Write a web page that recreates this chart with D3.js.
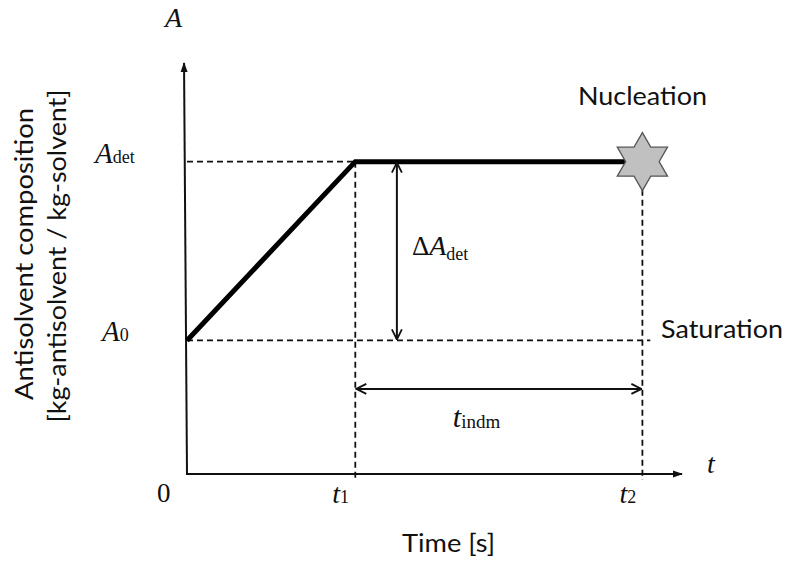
<!DOCTYPE html>
<html>
<head>
<meta charset="utf-8">
<script src="https://cdn.jsdelivr.net/npm/d3@7"></script>
<style>
  html, body { margin: 0; padding: 0; background: #fff; }
  svg { display: block; }
  .sans { font-family: Lato, "Open Sans", sans-serif; fill: #111; }
  .serif { font-family: "Liberation Serif", "DejaVu Serif", serif; fill: #111; }
</style>
</head>
<body>
<svg id="chart" width="788" height="570"></svg>
<script>
// Time landmarks (arbitrary units along the time axis)
const timeMarks = [
  { key: "t1", t: 34 },
  { key: "t2", t: 92 }
];
const tAxisEnd = 100;          // end of time axis (arrow tip)
const saturationLineEnd = 93.6;

// Antisolvent composition levels (arbitrary units)
const compositionLevels = [
  { key: "A0", a: 32.5 },
  { key: "Adet", a: 76 }
];
const aAxisEnd = 100;

// Profile: linear ramp from A0 to Adet, then hold until nucleation at t2
const profileT = [0, 34, 92];
const profileA = [32.5, 76, 76];

// Arrow annotations
const deltaArrowT = 42.4;   // position of the ΔA_det arrow
const tindmArrowA = 20.7;   // height of the t_indm arrow

const svg = d3.select("#chart");

const x = d3.scaleLinear().domain([0, tAxisEnd]).range([187, 682]);
const y = d3.scaleLinear().domain([0, aAxisEnd]).range([474, 63]);

const T1 = timeMarks[0].t, T2 = timeMarks[1].t;
const A0 = compositionLevels[0].a, ADET = compositionLevels[1].a;

// Markers
const defs = svg.append("defs");
defs.append("marker")
  .attr("id", "axisHead")
  .attr("viewBox", "0 0 10 10")
  .attr("refX", 9).attr("refY", 5)
  .attr("markerWidth", 5).attr("markerHeight", 5)
  .attr("markerUnits", "strokeWidth")
  .attr("orient", "auto")
  .append("path").attr("d", "M0,1.5 L10,5 L0,8.5 Z").attr("fill", "#111");

defs.append("marker")
  .attr("id", "dimHead")
  .attr("viewBox", "0 0 12 12")
  .attr("refX", 11).attr("refY", 6)
  .attr("markerWidth", 6).attr("markerHeight", 6)
  .attr("markerUnits", "strokeWidth")
  .attr("orient", "auto-start-reverse")
  .append("path").attr("d", "M1,1 L11,6 L1,11")
  .attr("fill", "none").attr("stroke", "#111").attr("stroke-width", 1.8);

const dash = "6,4";

// Dashed guide lines
const guides = svg.append("g").attr("stroke", "#111").attr("stroke-width", 1.8)
  .attr("stroke-dasharray", dash).attr("fill", "none");

guides.append("line")
  .attr("x1", x(0)).attr("y1", y(ADET)).attr("x2", x(T1)).attr("y2", y(ADET));
guides.append("line")
  .attr("x1", x(0)).attr("y1", y(A0)).attr("x2", x(saturationLineEnd)).attr("y2", y(A0));
guides.append("line")
  .attr("x1", x(T1)).attr("y1", y(ADET)).attr("x2", x(T1)).attr("y2", y(0) + 6);
guides.append("line")
  .attr("x1", x(T2)).attr("y1", y(ADET) + 28).attr("x2", x(T2)).attr("y2", y(0) + 6);

// Axes (drawn as arrows)
const axes = svg.append("g").attr("stroke", "#111").attr("stroke-width", 2).attr("fill", "none");
axes.append("line")
  .attr("x1", x(0)).attr("y1", y(0)).attr("x2", x(-0.6)).attr("y2", y(aAxisEnd))
  .attr("marker-end", "url(#axisHead)");
axes.append("line")
  .attr("x1", x(0) - 1).attr("y1", y(0)).attr("x2", x(tAxisEnd)).attr("y2", y(0))
  .attr("marker-end", "url(#axisHead)");

// Composition profile
const profile = profileT.map((t, i) => [t, profileA[i]]);
svg.append("path")
  .datum(profile)
  .attr("d", d3.line().x(d => x(d[0])).y(d => y(d[1])))
  .attr("fill", "none").attr("stroke", "#000")
  .attr("stroke-width", 5).attr("stroke-linejoin", "miter");

// Nucleation star (hexagram)
const R = 29, r = R / Math.sqrt(3);
const starPts = d3.range(12).map(i => {
  const ang = -Math.PI / 2 + i * Math.PI / 6;
  const rad = i % 2 === 0 ? R : r;
  return [x(T2) + rad * Math.cos(ang), y(ADET) + rad * Math.sin(ang)];
});
svg.append("path")
  .attr("d", d3.line()(starPts) + "Z")
  .attr("fill", "#c0c0c0").attr("stroke", "#555").attr("stroke-width", 1.3);

// Dimension arrows
const dims = svg.append("g").attr("stroke", "#111").attr("stroke-width", 2).attr("fill", "none");
dims.append("line")
  .attr("x1", x(deltaArrowT)).attr("y1", y(ADET) + 1)
  .attr("x2", x(deltaArrowT)).attr("y2", y(A0) - 1)
  .attr("marker-start", "url(#dimHead)").attr("marker-end", "url(#dimHead)");
dims.append("line")
  .attr("x1", x(T1) + 1).attr("y1", y(tindmArrowA))
  .attr("x2", x(T2) - 1).attr("y2", y(tindmArrowA))
  .attr("marker-start", "url(#dimHead)").attr("marker-end", "url(#dimHead)");

// Math-style labels
function mathLabel(xp, yp, parts) {
  const t = svg.append("text").attr("class", "serif").attr("x", xp).attr("y", yp);
  parts.forEach(p => {
    const s = t.append("tspan").text(p.text).attr("font-size", p.size);
    if (p.italic) s.attr("font-style", "italic");
    if (p.dy) s.attr("dy", p.dy);
  });
  return t;
}

mathLabel(x(0) - 22, y(aAxisEnd) - 36, [{ text: "A", size: 28, italic: true }]);
mathLabel(x(0) - 92, y(ADET) + 1, [
  { text: "A", size: 29, italic: true }, { text: "det", size: 18 }]);
mathLabel(x(0) - 85, y(A0) + 1, [
  { text: "A", size: 29, italic: true }, { text: "0", size: 18 }]);
mathLabel(x(0) - 30, y(0) + 28, [{ text: "0", size: 27 }]);
timeMarks.forEach(m => {
  mathLabel(x(m.t) - 23, y(0) + 29, [
    { text: "t", size: 28, italic: true }, { text: m.key.slice(1), size: 18 }]);
});
mathLabel(x(tAxisEnd) + 25, y(0) - 1, [{ text: "t", size: 28, italic: true }]);
mathLabel(x(deltaArrowT) + 15, y((ADET + A0) / 2) + 4, [
  { text: "\u0394", size: 27 }, { text: "A", size: 28, italic: true },
  { text: "det", size: 18, dy: 5 }]);
mathLabel(x((T1 + T2) / 2) - 46, y(tindmArrowA) + 38, [
  { text: "t", size: 30, italic: true }, { text: "indm", size: 19, dy: 1 }]);

// Text annotations
function sansText(xp, yp, str, size, len, rotate) {
  const t = svg.append("text").attr("class", "sans")
    .attr("font-size", size).text(str)
    .attr("textLength", len).attr("lengthAdjust", "spacingAndGlyphs");
  if (rotate) {
    t.attr("transform", `translate(${xp},${yp}) rotate(-90)`).attr("text-anchor", "middle");
  } else {
    t.attr("x", xp).attr("y", yp);
  }
  return t;
}

sansText(578, 105, "Nucleation", 25, 129);
sansText(661, y(A0) - 2, "Saturation", 25, 122);
sansText(402, 552, "Time [s]", 25, 93);
sansText(33, 254, "Antisolvent composition", 25, 292, true);
sansText(66, 256, "[kg-antisolvent / kg-solvent]", 25, 333, true);
</script>
</body>
</html>
